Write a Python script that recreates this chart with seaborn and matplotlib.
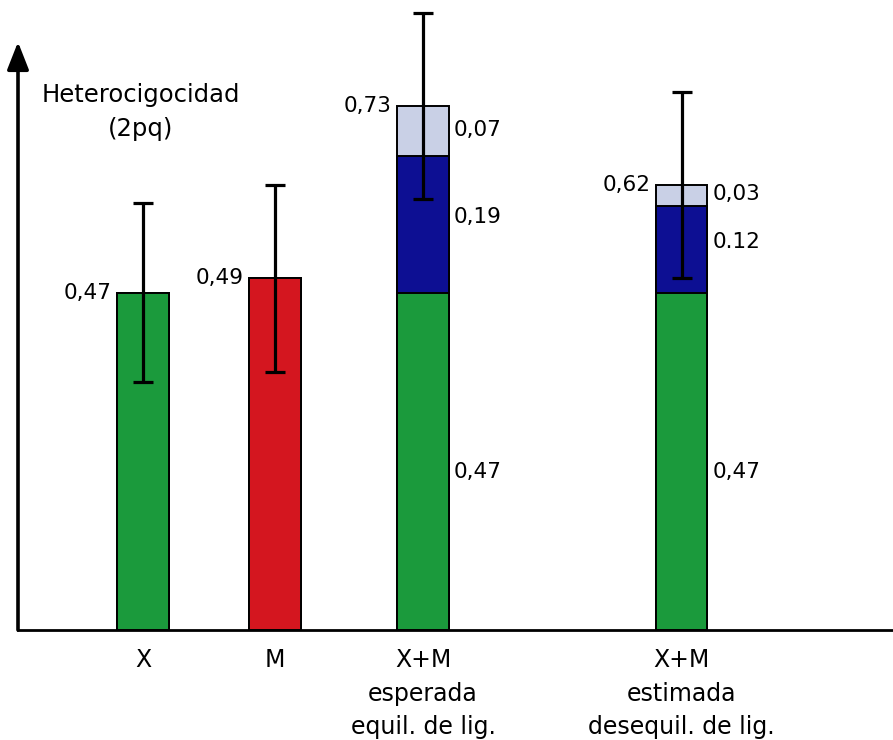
import matplotlib
matplotlib.use("Agg")
import matplotlib.pyplot as plt
import seaborn as sns
import pandas as pd
import numpy as np

# ---------------- data ----------------
categories = ["X", "M", "X+M\nesperada\nequil. de lig.", "X+M\nestimada\ndesequil. de lig."]
base_values = [0.47, 0.49, 0.47, 0.47]          # green / red base segment
mid_values = [0.0, 0.0, 0.19, 0.12]             # dark blue segment
top_values = [0.0, 0.0, 0.07, 0.03]             # light segment
totals = [0.47, 0.49, 0.73, 0.62]
errors = [0.125, 0.13, 0.13, 0.13]
total_labels = ["0,47", "0,49", "0,73", "0,62"]
mid_labels = ["", "", "0,19", "0.12"]
top_labels = ["", "", "0,07", "0,03"]
base_inner_labels = ["", "", "0,47", "0,47"]

# ---------------- layout ----------------
xpos = [0.0, 1.0, 2.12, 4.08]
base_colors = ["#1b9a3c", "#d4161f", "#1b9a3c", "#1b9a3c"]
blue = "#0d0f93"
light = "#c9d0e6"
bar_w = 0.39

sns.set_theme(style="white")
plt.rcParams["font.family"] = ["DejaVu Sans"]
plt.rcParams["text.color"] = "black"
plt.rcParams["xtick.color"] = "black"
plt.rcParams["xtick.labelcolor"] = "black"

fig = plt.figure(figsize=(8.93, 7.40), dpi=100)
ax = fig.add_axes([18/893, 110/740, 1 - 18/893, 630/740])

df = pd.DataFrame({"x": xpos, "base": base_values,
                   "mid": np.array(base_values) + np.array(mid_values),
                   "top": np.array(base_values) + np.array(mid_values) + np.array(top_values),
                   "cat": categories})

# stacked layers drawn from the top down
sns.barplot(data=df, x="x", y="top", native_scale=True, width=bar_w, color=light,
            edgecolor="black", linewidth=1.4, saturation=1, ax=ax, errorbar=None)
sns.barplot(data=df, x="x", y="mid", native_scale=True, width=bar_w, color=blue,
            edgecolor="black", linewidth=1.4, saturation=1, ax=ax, errorbar=None)
sns.barplot(data=df, x="x", y="base", native_scale=True, width=bar_w, hue="cat",
            palette=base_colors, edgecolor="black", linewidth=1.4, saturation=1,
            ax=ax, errorbar=None, legend=False, dodge=False)

ax.errorbar(xpos, totals, yerr=errors, fmt="none", ecolor="black",
            elinewidth=2.3, capsize=7.5, capthick=2.3, zorder=5)

ax.set_xlim(-0.947, 5.68)
ax.set_ylim(0, 630/718)

for s in ["top", "right"]:
    ax.spines[s].set_visible(False)
ax.spines["left"].set_visible(False)
ax.spines["bottom"].set_linewidth(2.0)
ax.spines["bottom"].set_color("black")

# y axis arrow
ax.annotate("", xy=(0, 588/630), xycoords="axes fraction", xytext=(0, 0),
            textcoords="axes fraction",
            arrowprops=dict(arrowstyle="-|>,head_length=1.4,head_width=0.55",
                            lw=2.6, color="black", shrinkA=0, shrinkB=0),
            annotation_clip=False)

ax.set_yticks([])
ax.set_xticks(xpos)
ax.set_xticklabels(categories, fontsize=17, linespacing=1.5)
ax.tick_params(axis="x", length=0, pad=13)
ax.set_xlabel("")
ax.set_ylabel("")

ax.text(-0.02, (630 - 112) / 630, "Heterocigocidad\n(2pq)", ha="center", va="center",
        fontsize=17.5, linespacing=1.5, transform=ax.get_xaxis_transform())

fs = 15.5
for i, x in enumerate(xpos):
    ax.text(x - bar_w/2 - 0.04, totals[i], total_labels[i], ha="right",
            va="center", fontsize=fs)
    right = x + bar_w/2 + 0.04
    if top_labels[i]:
        ax.text(right, base_values[i] + mid_values[i] + top_values[i]/2 + 0.002,
                top_labels[i], ha="left", va="center", fontsize=fs)
    if mid_labels[i]:
        ax.text(right, base_values[i] + mid_values[i]/2 + 0.01, mid_labels[i],
                ha="left", va="center", fontsize=fs)
    if base_inner_labels[i]:
        ax.text(right, base_values[i]/2 - 0.015, base_inner_labels[i],
                ha="left", va="center", fontsize=fs)

fig.savefig("out.png", dpi=100)
